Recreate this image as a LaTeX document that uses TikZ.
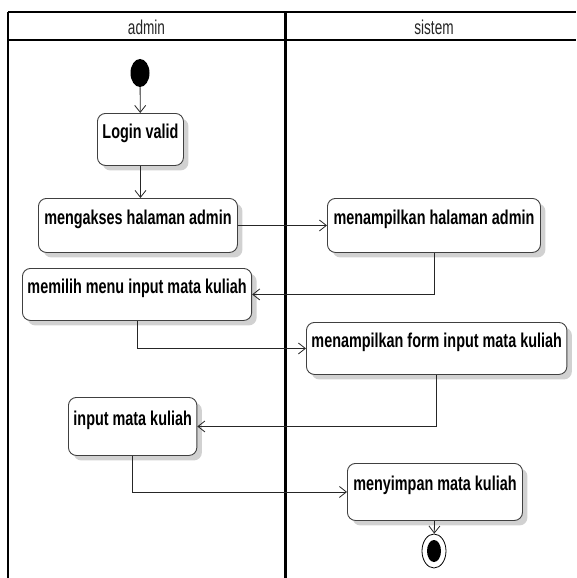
\documentclass[tikz,border=0pt]{standalone}
\usepackage{fontspec}
\usetikzlibrary{arrows.meta,shapes.geometric,shadows}
\newfontfamily\actfont{Liberation Sans}[FakeStretch=0.72]
\newfontfamily\lanefont{Liberation Sans}[FakeStretch=0.68]

\tikzset{
	action/.style={draw=black!75, line width=0.9pt, rounded corners=8pt, fill=white,
		drop shadow={shadow xshift=5pt, shadow yshift=-5pt, fill=black!18, opacity=1},
		anchor=north west, inner xsep=5pt, inner ysep=12pt, minimum height=52pt,
		text height=13pt, text depth=15pt, font=\actfont\bfseries\fontsize{20}{23}\selectfont},
	flow/.style={draw=black!85, line width=0.8pt, -{Straight Barb[length=7pt,width=11pt]}},
	lanetitle/.style={font=\lanefont\fontsize{20}{22}\selectfont, text=black!85},
}

\begin{document}
\begin{tikzpicture}[x=1pt,y=-1pt]
	\useasboundingbox (0,0) rectangle (576,578);
	% swimlanes
	\draw[line width=2pt] (8,12) -- (576,12);
	\draw[line width=2pt] (8,40) -- (576,40);
	\draw[line width=1.2pt] (8,12) -- (8,578);
	\draw[line width=3pt] (285,12) -- (285,578);
	\node[lanetitle] (admin) at (146.5,27) {admin};
	\node[lanetitle] (sistem) at (434,27) {sistem};

	% actions
	\node[ellipse, fill, minimum width=19pt, minimum height=28pt, inner sep=0pt] (start) at (140,73) {};
	\node[action, minimum width=85pt] (login) at (97,113) {Login valid};
	\node[action, minimum width=199pt, minimum height=54pt] (akses) at (38,198) {mengakses halaman admin};
	\node[action, minimum width=213pt, minimum height=54pt] (tampil) at (327,198) {menampilkan halaman admin};
	\node[action, minimum width=228pt] (pilih) at (22,268) {memilih menu input mata kuliah};
	\node[action, minimum width=259pt] (form) at (306,322) {menampilkan form input mata kuliah};
	\node[action, minimum width=127pt, minimum height=58pt] (input) at (68,397) {input mata kuliah};
	\node[action, minimum width=175pt, minimum height=57pt] (simpan) at (347,463) {menyimpan mata kuliah};
	\node[ellipse, draw, line width=0.8pt, minimum width=24pt, minimum height=34pt, inner sep=0pt] (end) at (434,551) {};
	\fill (end.center) ellipse (7pt and 11pt);

	% control flow
	\draw[flow] (start) -- (login);
	\draw[flow] (login) -- (login |- akses.north);
	\draw[flow] (akses) -- (tampil);
	\draw[flow] (tampil) |- (pilih);
	\draw[flow] (pilih) |- (form);
	\draw[flow] (form) |- (input);
	\draw[flow] (input) |- (simpan);
	\draw[flow] (simpan) -- (end);
\end{tikzpicture}
\end{document}
